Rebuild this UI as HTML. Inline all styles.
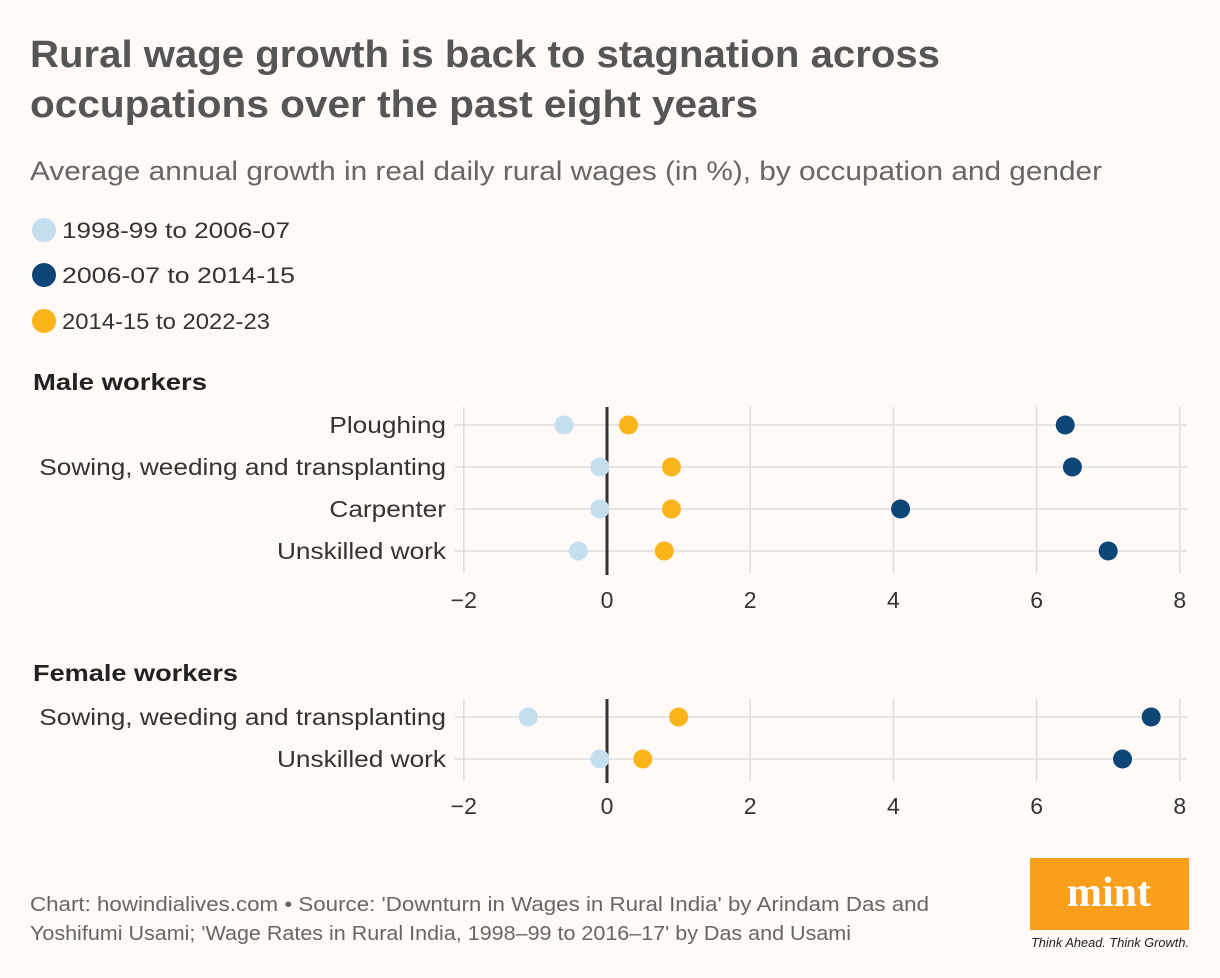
<!DOCTYPE html>
<html><head><meta charset="utf-8"><style>
body{margin:0;background:#fff9f7;font-family:"Liberation Sans",sans-serif;}
svg{display:block}
</style></head><body>
<svg width="1220" height="978" viewBox="0 0 1220 978">
<rect width="1220" height="978" fill="#fff9f7"/>
<text x="30" y="67" font-size="38" font-weight="bold" fill="#555" textLength="910" lengthAdjust="spacingAndGlyphs">Rural wage growth is back to stagnation across</text>
<text x="30" y="117" font-size="38" font-weight="bold" fill="#555" textLength="728" lengthAdjust="spacingAndGlyphs">occupations over the past eight years</text>
<text x="30" y="180" font-size="27" fill="#666" textLength="1072" lengthAdjust="spacingAndGlyphs">Average annual growth in real daily rural wages (in %), by occupation and gender</text>
<g>
<circle cx="44" cy="230" r="12" fill="#c4dff0"/>
<text x="62" y="238" font-size="22" fill="#333" textLength="228" lengthAdjust="spacingAndGlyphs">1998-99 to 2006-07</text>
<circle cx="44" cy="275" r="12" fill="#0d4677"/>
<text x="62" y="283" font-size="22" fill="#333" textLength="233" lengthAdjust="spacingAndGlyphs">2006-07 to 2014-15</text>
<circle cx="44" cy="321" r="12" fill="#fbb41a"/>
<text x="62" y="329" font-size="22" fill="#333" textLength="208" lengthAdjust="spacingAndGlyphs">2014-15 to 2022-23</text>
</g>
<text x="33" y="390" font-size="23" font-weight="bold" fill="#222" textLength="174" lengthAdjust="spacingAndGlyphs">Male workers</text>
<text x="33" y="681" font-size="23" font-weight="bold" fill="#222" textLength="205" lengthAdjust="spacingAndGlyphs">Female workers</text>
<g id="plots"></g>
<text x="30" y="911" font-size="20" fill="#666" textLength="899" lengthAdjust="spacingAndGlyphs">Chart: howindialives.com • Source: 'Downturn in Wages in Rural India' by Arindam Das and</text>
<text x="30" y="940" font-size="20" fill="#666" textLength="821" lengthAdjust="spacingAndGlyphs">Yoshifumi Usami; 'Wage Rates in Rural India, 1998–99 to 2016–17' by Das and Usami</text>
<g>
<rect x="1030" y="858" width="159" height="72" fill="#f99f1c"/>
<text x="1109" y="906" font-size="42" font-weight="bold" font-family="Liberation Serif,serif" fill="#fff" text-anchor="middle">mint</text>
<text x="1110" y="947" font-size="13" font-style="italic" fill="#222" text-anchor="middle" textLength="158" lengthAdjust="spacingAndGlyphs">Think Ahead. Think Growth.</text>
</g>
</svg>
<script>
const maleCats=["Ploughing","Sowing, weeding and transplanting","Carpenter","Unskilled work"];
const maleP1=[-0.6,-0.1,-0.1,-0.4];
const maleP2=[6.4,6.5,4.1,7.0];
const maleP3=[0.3,0.9,0.9,0.8];
const femaleCats=["Sowing, weeding and transplanting","Unskilled work"];
const femaleP1=[-1.1,-0.1];
const femaleP2=[7.6,7.2];
const femaleP3=[1.0,0.5];
const ticks=[-2,0,2,4,6,8];
const tickLabels=["−2","0","2","4","6","8"];
const NS="http://www.w3.org/2000/svg";
const g=document.getElementById('plots');
function x(v){return 607+(v)*71.6;}
function mk(tag,attrs,parent){const e=document.createElementNS(NS,tag);for(const k in attrs)e.setAttribute(k,attrs[k]);(parent||g).appendChild(e);return e;}
function panel(name,cats,s1,s2,s3,y0,axisY){
  const y=i=>y0+i*42;
  const pg=mk('g',{});
  
  
  ticks.forEach((t,i)=>{
    const l=mk('line',{x1:x(t),x2:x(t),y1:y0-18,y2:y(cats.length-1)+22,stroke:'#ddd','stroke-width':1.5},pg);
    
    
    const tl=mk('text',{x:x(t),y:axisY,'font-size':23,fill:'#333','text-anchor':'middle'},pg);
    tl.textContent=tickLabels[i];
    
    
  });
  cats.forEach((c,i)=>{
    const gl=mk('line',{x1:455,x2:1187,y1:y(i),y2:y(i),stroke:'#ddd','stroke-width':1.5},pg);
    
    
    const t=mk('text',{x:446,y:y(i)+8,'font-size':23,fill:'#333','text-anchor':'end'},pg);
    t.textContent=c;
    
    
    const w=t.getComputedTextLength();
    t.setAttribute('textLength',w*1.14);
    t.setAttribute('lengthAdjust','spacingAndGlyphs');
  });
  const z=mk('line',{x1:x(0),x2:x(0),y1:y0-18,y2:y(cats.length-1)+24,stroke:'#333','stroke-width':3},pg);
  
  
  [[s1,'#c4dff0','dot-1998'],[s2,'#0d4677','dot-2006'],[s3,'#fbb41a','dot-2014']].forEach(([s,col,n])=>{
    s.forEach((v,i)=>{
      const c=mk('circle',{cx:x(v),cy:y(i),r:9.5,fill:col},pg);
      
      
    });
  });
}
panel('male',maleCats,maleP1,maleP2,maleP3,425,608);
panel('female',femaleCats,femaleP1,femaleP2,femaleP3,717,814);
</script>
</body></html>
